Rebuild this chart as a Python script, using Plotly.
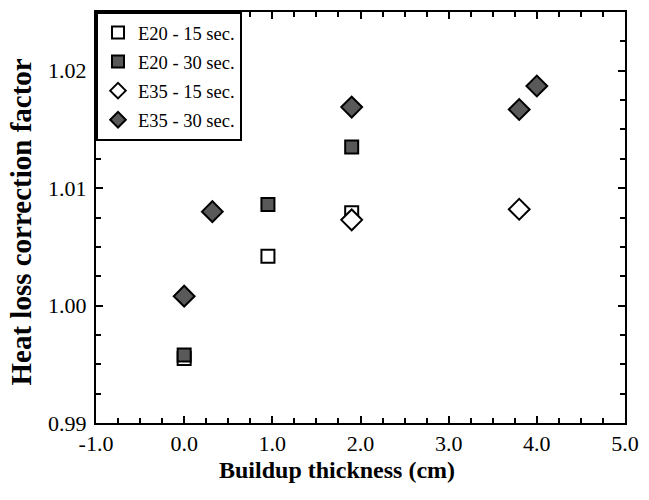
import plotly.graph_objects as go

# Data
series_names = ["E20 - 15 sec.", "E20 - 30 sec.", "E35 - 15 sec.", "E35 - 30 sec."]

e20_15_x = [0.0, 0.95, 1.9]
e20_15_y = [0.9955, 1.0042, 1.0079]

e20_30_x = [0.0, 0.95, 1.9]
e20_30_y = [0.9958, 1.0086, 1.0135]

e35_15_x = [1.9, 3.8]
e35_15_y = [1.0073, 1.0082]

e35_30_x = [0.0, 0.32, 1.9, 3.8, 4.0]
e35_30_y = [1.0008, 1.0080, 1.0169, 1.0167, 1.0187]

x_tickvals = [-1.0, 0.0, 1.0, 2.0, 3.0, 4.0, 5.0]
x_ticktext = ["-1.0", "0.0", "1.0", "2.0", "3.0", "4.0", "5.0"]
y_tickvals = [0.99, 1.00, 1.01, 1.02]
y_ticktext = ["0.99", "1.00", "1.01", "1.02"]

x_title = "Buildup thickness (cm)"
y_title = "Heat loss correction factor"

FILL = "#595959"
FONT = "Liberation Serif"

fig = go.Figure()

specs = [
    (e20_15_x, e20_15_y, series_names[0], "square", "white", 13),
    (e20_30_x, e20_30_y, series_names[1], "square", FILL, 13),
    (e35_15_x, e35_15_y, series_names[2], "diamond", "white", 16),
    (e35_30_x, e35_30_y, series_names[3], "diamond", FILL, 16),
]
for i, (xs, ys, name, sym, col, sz) in enumerate(specs):
    fig.add_trace(go.Scatter(
        x=xs, y=ys, mode="markers", name=name, legendgroup=f"g{i}",
        marker=dict(symbol=sym, color=col, size=sz,
                    line=dict(color="black", width=2)),
    ))

axis_common = dict(
    showline=True, linecolor="black", linewidth=2, mirror="ticks",
    ticks="inside", ticklen=7, tickwidth=2, tickcolor="black",
    showgrid=False, zeroline=False,
    tickfont=dict(family=FONT, size=22, color="black"),
)

fig.update_xaxes(
    range=[-1.0, 5.0], tickmode="array", tickvals=x_tickvals, ticktext=x_ticktext,
    minor=dict(dtick=0.25, ticks="inside", ticklen=5, tickwidth=2, tickcolor="black"),
    **axis_common,
)
fig.update_yaxes(
    range=[0.99, 1.025], tickmode="array", tickvals=y_tickvals, ticktext=y_ticktext,
    minor=dict(dtick=0.0025, ticks="inside", ticklen=5, tickwidth=2, tickcolor="black"),
    ticklabelstandoff=3,
    **axis_common,
)

# Axis titles as annotations so they can sit where the reference has them
fig.add_annotation(
    text=f"<b>{x_title}</b>", xref="paper", yref="paper",
    x=0.455, y=-0.114, xanchor="center", yanchor="middle", showarrow=False,
    font=dict(family=FONT, size=24, color="black"),
)
fig.add_annotation(
    text=f"<b>{y_title}</b>", xref="paper", yref="paper", textangle=-90,
    x=-0.142, y=0.49, xanchor="center", yanchor="middle", showarrow=False,
    font=dict(family=FONT, size=29, color="black"),
)

fig.update_layout(
    width=649, height=500,
    margin=dict(l=96, r=17, t=10, b=77),
    paper_bgcolor="white", plot_bgcolor="white",
    showlegend=True,
    legend=dict(
        x=0, y=1, xanchor="left", yanchor="top",
        bgcolor="white", bordercolor="black", borderwidth=2,
        font=dict(family=FONT, size=18.5, color="black"),
        traceorder="grouped", tracegroupgap=2,
        itemwidth=30, itemsizing="constant",
    ),
)

# Remove the default page margin and scrollbars so the 649x500 figure
# fills the window exactly.
page_fix = (
    "document.documentElement.style.overflow='hidden';"
    "document.body.style.overflow='hidden';"
    "document.body.style.margin='0px';"
)
fig.write_html(
    "out.html",
    config={"displayModeBar": False, "responsive": False},
    post_script=page_fix,
)
